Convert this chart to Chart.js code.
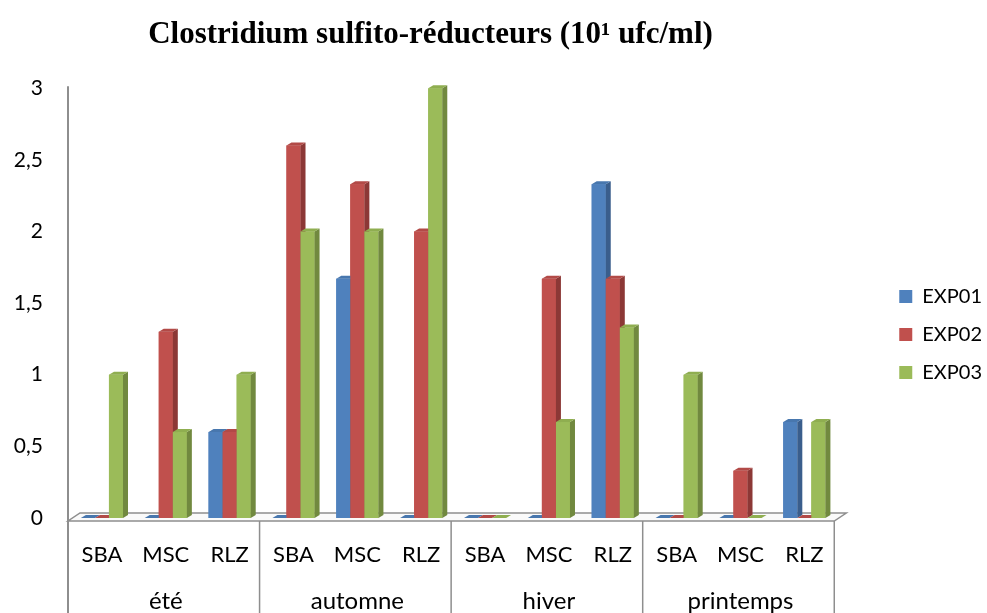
<!DOCTYPE html>
<html>
<head>
<meta charset="utf-8">
<script src="https://cdn.jsdelivr.net/npm/chart.js@4/dist/chart.umd.min.js"></script>
<style>
  html, body { margin: 0; padding: 0; background: #fff; }
  #wrap { width: 987px; height: 613px; }
</style>
</head>
<body>
<div id="wrap"><canvas id="chart"></canvas></div>
<script>
// sampling sites, repeated per season
const sites = ["SBA", "MSC", "RLZ", "SBA", "MSC", "RLZ", "SBA", "MSC", "RLZ", "SBA", "MSC", "RLZ"];
const seasons = ["été", "automne", "hiver", "printemps"];
const yTicks = [0, 0.5, 1, 1.5, 2, 2.5, 3];

const exp01 = [0, 0, 0.6, 0, 1.67, 0, 0, 0, 2.33, 0, 0, 0.67];
const exp02 = [0, 1.3, 0.6, 2.6, 2.33, 2, 0, 1.67, 1.67, 0, 0.33, 0];
const exp03 = [1, 0.6, 1, 2, 2, 3, 0, 0.67, 1.33, 1, 0, 0.67];

const fronts = ["#4F81BD", "#C0504D", "#9BBB59"];
const sides = ["#3A5E8C", "#8C3836", "#71893F"];
const tops = ["#4877AE", "#B24A47", "#8FAE50"];
const lineGrey = "#8E8E8E";
const dx = 5, dy = 3;

function poly(ctx, pts, fill) {
  ctx.beginPath();
  ctx.moveTo(pts[0][0], pts[0][1]);
  for (let k = 1; k < pts.length; k++) ctx.lineTo(pts[k][0], pts[k][1]);
  ctx.closePath();
  ctx.fillStyle = fill;
  ctx.fill();
}

// floor, axis wall line, category table lines and the 3D bar faces
const frame3d = {
  id: "frame3d",
  afterLayout(chart) {
    // push the legend away from the plot, lower on the right side
    const lg = chart.legend;
    lg.left += 45; lg.right += 45;
    lg.top += 28; lg.bottom += 28;
    // title sits a little left of the canvas centre
    const tb = chart.titleBlock;
    tb.left -= 43; tb.right -= 43;
  },
  beforeDatasetsDraw(chart) {
    const ctx = chart.ctx;
    const { left, right } = chart.chartArea;
    const base = chart.scales.y.getPixelForValue(0);
    const fy = base + 3, by = base - 5;
    ctx.save();
    ctx.strokeStyle = lineGrey;
    ctx.lineWidth = 1.5;
    ctx.beginPath();
    ctx.moveTo(left - 2, fy);
    ctx.lineTo(right - 2, fy);
    ctx.lineTo(right + 10, by);
    ctx.lineTo(left + 10, by);
    ctx.closePath();
    ctx.fillStyle = "#fafafa";
    ctx.fill();
    ctx.stroke();

    // left axis line running down into the table
    ctx.lineWidth = 2;
    ctx.beginPath();
    ctx.moveTo(left - 2, chart.scales.y.getPixelForValue(3) - 2);
    ctx.lineTo(left - 2, chart.height);
    ctx.stroke();

    ctx.lineWidth = 1.5;
    const step = (right - left) / seasons.length;
    for (let k = 1; k <= seasons.length; k++) {
      const x = left - 2 + k * step;
      ctx.beginPath();
      ctx.moveTo(x, fy);
      ctx.lineTo(x, chart.height);
      ctx.stroke();
    }
    ctx.restore();
  },
  afterDatasetsDraw(chart) {
    const ctx = chart.ctx;
    ctx.save();
    for (let i = 0; i < sites.length; i++) {
      chart.data.datasets.forEach((ds, d) => {
        const bar = chart.getDatasetMeta(d).data[i];
        const { x, y, base, width } = bar.getProps(["x", "y", "base", "width"], true);
        const l = x - width / 2, r = x + width / 2;
        ctx.fillStyle = fronts[d];
        ctx.fillRect(l, y, width, base - y);
        poly(ctx, [[r, y], [r + dx, y - dy], [r + dx, base - dy], [r, base]], sides[d]);
        poly(ctx, [[l, y], [r, y], [r + dx, y - dy], [l + dx, y - dy]], tops[d]);
      });
    }
    ctx.restore();
  }
};

new Chart(document.getElementById("chart"), {
  type: "bar",
  data: {
    labels: sites,
    datasets: [
      { label: "EXP01", data: exp01, backgroundColor: fronts[0] },
      { label: "EXP02", data: exp02, backgroundColor: fronts[1] },
      { label: "EXP03", data: exp03, backgroundColor: fronts[2] }
    ]
  },
  options: {
    responsive: true,
    maintainAspectRatio: false,
    animation: false,
    datasets: { bar: { categoryPercentage: 0.66, barPercentage: 1, borderWidth: 0 } },
    layout: { padding: { left: 0, right: 40, top: 0, bottom: 0 } },
    plugins: {
      title: {
        display: true,
        text: "Clostridium sulfito-réducteurs (10¹ ufc/ml)",
        color: "#000",
        font: { family: "Liberation Serif", size: 31, weight: "bold" },
        padding: { top: 16, bottom: 35 }
      },
      legend: {
        position: "right",
        labels: {
          color: "#000",
          font: { family: "Lato", size: 20 },
          boxWidth: 13,
          boxHeight: 13,
          padding: 18
        }
      },
      tooltip: { enabled: false }
    },
    scales: {
      y: {
        min: 0,
        max: 3,
        afterFit(s) { s.width = 70; },
        afterBuildTicks(s) { s.ticks = yTicks.map(v => ({ value: v })); },
        grid: { display: false, drawTicks: false },
        border: { display: false },
        ticks: {
          color: "#000",
          font: { family: "Lato", size: 21 },
          padding: 27,
          callback: v => String(v).replace(".", ",")
        }
      },
      x: {
        weight: 0,
        afterFit(s) { s.height = 50; },
        grid: { display: false, drawTicks: false },
        border: { display: false },
        ticks: { color: "#000", font: { family: "Lato", size: 22 }, padding: 24, maxRotation: 0, autoSkip: false }
      },
      season: {
        type: "category",
        position: "bottom",
        weight: 1,
        labels: seasons,
        offset: true,
        afterFit(s) { s.height = 45; },
        grid: { display: false, drawTicks: false },
        border: { display: false },
        ticks: { color: "#000", font: { family: "Lato", size: 24 }, padding: 19, maxRotation: 0, autoSkip: false }
      }
    }
  },
  plugins: [frame3d]
});
</script>
</body>
</html>
